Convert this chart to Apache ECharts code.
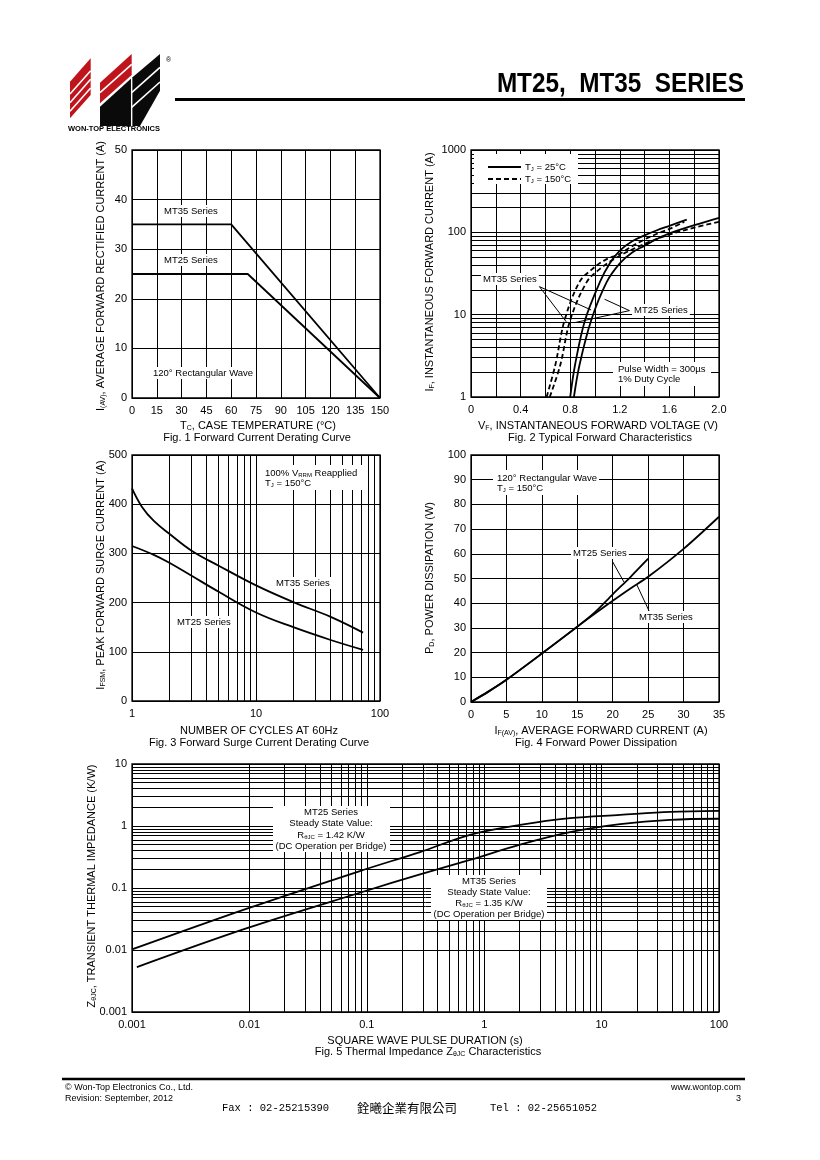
<!DOCTYPE html>
<html><head><meta charset="utf-8">
<script src="https://cdn.jsdelivr.net/npm/echarts@6/dist/echarts.min.js"></script>
<style>html,body{margin:0;padding:0;background:#fff}#c{width:820px;height:1160px}</style>
</head><body><div id="c"></div>
<script>
// ---------------- DATA ----------------
// Fig.1 Forward current derating
const fig1Temp_MT35 = [0, 60, 150];
const fig1Cur_MT35  = [35, 35, 0];
const fig1Temp_MT25 = [0, 70, 150];
const fig1Cur_MT25  = [25, 25, 0];

// Fig.2 Typical forward characteristics (V, A)
const fig2V_MT35_25C  = [0.80, 0.84, 0.92, 1.04, 1.12, 1.20, 1.30, 1.40, 1.50, 1.60, 1.74];
const fig2I_MT35_25C  = [1, 2.5, 8.6, 25, 42, 60, 78, 92, 106, 120, 143];
const fig2V_MT35_150C = [0.61, 0.68, 0.755, 0.875, 0.98, 1.08, 1.20, 1.30, 1.40, 1.50, 1.60, 1.72];
const fig2I_MT35_150C = [1, 2.45, 8.6, 25, 36, 46, 55, 68, 82, 96, 110, 134];
const fig2V_MT25_25C  = [0.83, 0.875, 0.97, 1.095, 1.20, 1.30, 1.40, 1.50, 1.60, 1.80, 2.00];
const fig2I_MT25_25C  = [1, 2.45, 8.6, 25, 42, 57, 69, 83, 97, 122, 150];
const fig2V_MT25_150C = [0.635, 0.72, 0.80, 0.934, 1.04, 1.14, 1.24, 1.34, 1.45, 1.60, 1.80, 2.00];
const fig2I_MT25_150C = [1, 2.45, 8.6, 25, 36, 46, 56, 66, 78, 94, 114, 134];
const fig2XLabels = ['0', '', '0.4', '', '0.8', '', '1.2', '', '1.6', '', '2.0'];
const fig2YLabels = ['1', '10', '100', '1000'];

// Fig.3 Forward surge current derating
const fig3Cycles_MT35 = [1, 1.2, 1.5, 2, 3, 5, 10, 20, 40, 73];
const fig3Amps_MT35   = [432, 395, 366, 340, 306, 275, 235, 201, 171, 139];
const fig3Cycles_MT25 = [1, 1.5, 2, 3, 5, 10, 20, 40, 73];
const fig3Amps_MT25   = [315, 297, 281, 255, 222, 180, 150, 124, 104];
const fig3XLabels = ['1', '10', '100'];

// Fig.4 Forward power dissipation
const fig4Cur_MT35 = [0, 2.5, 5, 10, 15, 17.5, 20, 22.5, 25, 30, 35];
const fig4Pow_MT35 = [0, 4.3, 9, 19.6, 30.5, 35.8, 41, 46, 50.7, 62, 75];
const fig4Cur_MT25 = [0, 2.5, 5, 10, 15, 17.5, 20, 22.5, 25];
const fig4Pow_MT25 = [0, 4.3, 9, 19.6, 30.5, 36.4, 43.6, 50.6, 58];

// Fig.5 Transient thermal impedance
const fig5Time_MT25 = [0.001, 0.0094, 0.093, 0.284, 0.757, 2.02, 5.38, 14.4, 38.4, 100];
const fig5Z_MT25    = [0.0102, 0.046, 0.195, 0.38, 0.72, 1.04, 1.34, 1.51, 1.69, 1.76];
const fig5Time_MT35 = [0.0011, 0.0094, 0.093, 0.284, 0.757, 2.02, 5.38, 14.4, 38.4, 100];
const fig5Z_MT35    = [0.0053, 0.0223, 0.087, 0.166, 0.284, 0.50, 0.795, 1.07, 1.26, 1.31];
const fig5XLabels = ['0.001', '0.01', '0.1', '1', '10', '100'];
const fig5YLabels = ['0.001', '0.01', '0.1', '1', '10'];

// annotation arrows (data space)
const fig2ArrowsMT35 = [[[0.552, 21.9], [0.768, 8.2]], [[0.552, 21.9], [0.969, 11.4]]];
const fig2ArrowsMT25 = [[[1.278, 11.2], [0.835, 8.0]], [[1.278, 11.2], [1.077, 15.4]]];
const fig4Arrows = [[[20.0, 56.7], [21.6, 48.5]], [[25.3, 35.8], [23.4, 47.5]]];

// ---------------- CHART ----------------
const FONT = '"Liberation Sans", Arial, Helvetica, sans-serif';
const zip = (a, b) => a.map((v, i) => [v, b[i]]);
const logLabel = (arr, e0) => v => arr[Math.round(Math.log10(v)) - e0] || '';
function minors(e0, e1) {
  const r = [];
  for (let e = e0; e < e1; e++) for (let d = 2; d <= 9; d++) r.push(+(d * Math.pow(10, e)).toPrecision(6));
  return r;
}

const gridDefs = [
  {left: 132, top: 150, width: 248, height: 248},
  {left: 471, top: 150, width: 248, height: 247},
  {left: 132, top: 455, width: 248, height: 246},
  {left: 471, top: 455, width: 248, height: 247},
  {left: 132, top: 764, width: 587, height: 248}
];
const grids = gridDefs.map(g => Object.assign({show: true, borderColor: '#000', borderWidth: 1.3,
  backgroundColor: 'rgba(0,0,0,0)', containLabel: false, outerBoundsMode: 'none'}, g));

const splitL = {show: true, lineStyle: {color: '#000', width: 1, type: 'solid'}};
function ax(gi, isX, o, fmt) {
  const a = {gridIndex: gi, position: isX ? 'bottom' : 'left', axisLine: {show: false}, axisTick: {show: false},
    splitLine: splitL, minorTick: {show: false},
    axisLabel: {color: '#000', fontSize: 11, fontFamily: FONT, margin: isX ? 7 : 5, hideOverlap: false,
      showMinLabel: true, showMaxLabel: true}};
  if (fmt) a.axisLabel.formatter = fmt;
  return Object.assign(a, o);
}
const xAxes = [
  ax(0, true, {type: 'value', min: 0, max: 150, interval: 15}),
  ax(1, true, {type: 'value', min: 0, max: 2, interval: 0.2}, v => fig2XLabels[Math.round(v / 0.2)] || ''),
  ax(2, true, {type: 'log', logBase: 10, min: 1, max: 100}, logLabel(fig3XLabels, 0)),
  ax(3, true, {type: 'value', min: 0, max: 35, interval: 5}),
  ax(4, true, {type: 'log', logBase: 10, min: 0.001, max: 100}, logLabel(fig5XLabels, -3))
];
const yAxes = [
  ax(0, false, {type: 'value', min: 0, max: 50, interval: 10}),
  ax(1, false, {type: 'log', logBase: 10, min: 1, max: 1000}, logLabel(fig2YLabels, 0)),
  ax(2, false, {type: 'value', min: 0, max: 500, interval: 100}),
  ax(3, false, {type: 'value', min: 0, max: 100, interval: 10}),
  ax(4, false, {type: 'log', logBase: 10, min: 0.001, max: 10}, logLabel(fig5YLabels, -3))
];

function gridLines(i, anchor, items) {
  return {type: 'line', xAxisIndex: i, yAxisIndex: i, data: [anchor], symbol: 'none', silent: true, z: 1,
    lineStyle: {opacity: 0}, animation: false,
    markLine: {silent: true, symbol: ['none', 'none'], label: {show: false}, animation: false,
      lineStyle: {color: '#000', width: 1, type: 'solid'}, emphasis: {disabled: true}, data: items}};
}
function arrows(i, anchor, list) {
  return {type: 'line', xAxisIndex: i, yAxisIndex: i, data: [anchor], symbol: 'none', silent: true, z: 4,
    lineStyle: {opacity: 0}, animation: false,
    markLine: {silent: true, symbol: ['none', 'arrow'], symbolSize: [0, 8], label: {show: false}, animation: false,
      lineStyle: {color: '#000', width: 1, type: 'solid'}, emphasis: {disabled: true},
      data: list.map(p => [{coord: p[0]}, {coord: p[1]}])}};
}
function curve(i, data, opts) {
  return Object.assign({type: 'line', xAxisIndex: i, yAxisIndex: i, data: data, symbol: 'none', silent: true, z: 3,
    animation: false, lineStyle: {color: '#000', width: 1.8, type: 'solid'}}, opts || {});
}
const dashed = {color: '#000', width: 1.8, type: [5, 3]};

const series = [
  gridLines(1, [0, 1], minors(0, 3).map(v => ({yAxis: v}))),
  gridLines(2, [1, 0], minors(0, 2).map(v => ({xAxis: v}))),
  gridLines(4, [0.001, 0.001], minors(-3, 2).map(v => ({xAxis: v})).concat(minors(-3, 1).map(v => ({yAxis: v})))),
  curve(0, zip(fig1Temp_MT35, fig1Cur_MT35)),
  curve(0, zip(fig1Temp_MT25, fig1Cur_MT25)),
  curve(1, zip(fig2V_MT35_25C, fig2I_MT35_25C), {smooth: 0.35}),
  curve(1, zip(fig2V_MT25_25C, fig2I_MT25_25C), {smooth: 0.35}),
  curve(1, zip(fig2V_MT35_150C, fig2I_MT35_150C), {smooth: 0.35, lineStyle: dashed}),
  curve(1, zip(fig2V_MT25_150C, fig2I_MT25_150C), {smooth: 0.35, lineStyle: dashed}),
  curve(2, zip(fig3Cycles_MT35, fig3Amps_MT35), {smooth: 0.4}),
  curve(2, zip(fig3Cycles_MT25, fig3Amps_MT25), {smooth: 0.4}),
  curve(3, zip(fig4Cur_MT35, fig4Pow_MT35), {smooth: 0.3}),
  curve(3, zip(fig4Cur_MT25, fig4Pow_MT25), {smooth: 0.3}),
  curve(4, zip(fig5Time_MT25, fig5Z_MT25), {smooth: 0.35}),
  curve(4, zip(fig5Time_MT35, fig5Z_MT35), {smooth: 0.35}),
  arrows(1, [0, 1], fig2ArrowsMT35.concat(fig2ArrowsMT25)),
  arrows(3, [0, 0], fig4Arrows)
];

// ---------------- TEXT / DECORATION ----------------
function rich(fs) {
  return {
    n: {fontSize: fs, fontFamily: FONT, fill: '#000'},
    s: {fontSize: Math.round(fs * 0.68), fontFamily: FONT, fill: '#000', verticalAlign: 'bottom', lineHeight: 6}
  };
}
function T(x, y, text, o) {
  o = o || {};
  const fs = o.fs || 11;
  const st = {text: text, rich: rich(fs), fill: '#000', font: (o.bold ? 'bold ' : '') + fs + 'px ' + (o.family || FONT),
    align: o.align || 'left', textAlign: o.align || 'left', verticalAlign: 'middle', textVerticalAlign: 'middle'};
  if (o.bg) { st.backgroundColor = '#fff'; st.padding = o.pad || [1, 2]; }
  if (o.lh) { st.lineHeight = o.lh; st.rich.n.lineHeight = o.lh; }
  const el = {type: 'text', x: x, y: y, z: 60, silent: true, style: st};
  if (o.rot) el.rotation = o.rot;
  if (o.sx) el.scaleX = o.sx;
  return el;
}
function R(x, y, w, h, fill) { return {type: 'rect', z: 55, silent: true, shape: {x: x, y: y, width: w, height: h}, style: {fill: fill || '#fff'}}; }
function Ln(x1, y1, x2, y2, w, c, dash) {
  const st = {stroke: c || '#000', lineWidth: w || 1};
  if (dash) st.lineDash = dash;
  return {type: 'line', z: 58, silent: true, shape: {x1: x1, y1: y1, x2: x2, y2: y2}, style: st};
}
const Lg = (zx, zy) => [60 + zx / 3, 50 + zy / 3];
function Poly(pts, fill) { return {type: 'polygon', z: 55, silent: true, shape: {points: pts.map(p => Lg(p[0], p[1]))}, style: {fill: fill}}; }
function Stripe(a, b) { const p = Lg(a[0], a[1]), q = Lg(b[0], b[1]); return Ln(p[0], p[1], q[0], q[1], 1.6, '#fff'); }

const ROT = Math.PI / 2;
const MONO = '"Liberation Mono", "DejaVu Sans Mono", monospace';
const graphics = [
  // logo
  Poly([[30, 95], [92, 25], [92, 135], [30, 205]], '#c0141c'),
  Poly([[120, 98], [215, 12], [215, 75], [120, 160]], '#c0141c'),
  Poly([[120, 228], [120, 170], [215, 84], [300, 12], [300, 122], [240, 228]], '#0a0a0a'),
  Stripe([30, 132], [92, 62]), Stripe([30, 158], [92, 88]), Stripe([30, 184], [92, 114]),
  Stripe([120, 128], [215, 43]),
  Stripe([215, 128], [300, 52]), Stripe([215, 172], [300, 96]),
  Ln(Lg(215, 84)[0], Lg(215, 84)[1], Lg(215, 228)[0], Lg(215, 228)[1], 1.4, '#fff'),
  T(166, 60, '®', {fs: 7}),
  T(68, 128.5, 'WON-TOP ELECTRONICS', {fs: 7.5, bold: true}),
  // header
  T(744, 85, 'MT25,  MT35  SERIES', {fs: 27, bold: true, align: 'right', sx: 0.9}),
  Ln(175, 99.5, 745, 99.5, 3),
  // footer
  Ln(62, 1079, 745, 1079, 2.5),
  T(65, 1088, '© Won-Top Electronics Co., Ltd.', {fs: 9}),
  T(65, 1099, 'Revision: September, 2012', {fs: 9}),
  T(741, 1088, 'www.wontop.com', {fs: 9, align: 'right'}),
  T(741, 1099, '3', {fs: 9, align: 'right'}),
  T(222, 1108, 'Fax : 02-25215390', {fs: 10.5, family: MONO}),
  T(357, 1108, '銓曦企業有限公司', {fs: 12.5, family: '"Noto Sans CJK TC", sans-serif'}),
  T(490, 1108, 'Tel : 02-25651052', {fs: 10.5, family: MONO}),

  // Fig 1
  T(101, 276, '{n|I}{s|(AV)}{n|, AVERAGE FORWARD RECTIFIED CURRENT (A)}', {rot: ROT, align: 'center'}),
  T(258, 426, '{n|T}{s|C}{n|, CASE TEMPERATURE (°C)}', {align: 'center'}),
  T(257, 438, 'Fig. 1 Forward Current Derating Curve', {align: 'center'}),
  T(162, 211, 'MT35 Series', {fs: 9.5, bg: true}),
  T(162, 260, 'MT25 Series', {fs: 9.5, bg: true}),
  T(151, 373, '120° Rectangular Wave', {fs: 9.5, bg: true}),

  // Fig 2
  T(430, 272, '{n|I}{s|F}{n|, INSTANTANEOUS FORWARD CURRENT (A)}', {rot: ROT, align: 'center'}),
  T(598, 426, '{n|V}{s|F}{n|, INSTANTANEOUS FORWARD VOLTAGE (V)}', {align: 'center'}),
  T(600, 438, 'Fig. 2 Typical Forward Characteristics', {align: 'center'}),
  R(474, 154, 104, 30),
  Ln(488, 167, 521, 167, 1.8), Ln(488, 179, 521, 179, 1.8, '#000', [5, 3]),
  T(525, 167, '{n|T}{s|J}{n| = 25°C}', {fs: 9.5}),
  T(525, 179, '{n|T}{s|J}{n| = 150°C}', {fs: 9.5}),
  T(481, 279, 'MT35 Series', {fs: 9.5, bg: true}),
  T(632, 310, 'MT25 Series', {fs: 9.5, bg: true}),
  R(613, 362, 98, 24),
  T(618, 369, 'Pulse Width = 300µs', {fs: 9.5}),
  T(618, 379, '1% Duty Cycle', {fs: 9.5}),

  // Fig 3
  T(101, 575, '{n|I}{s|FSM}{n|, PEAK FORWARD SURGE CURRENT (A)}', {rot: ROT, align: 'center'}),
  T(259, 731, 'NUMBER OF CYCLES AT 60Hz', {align: 'center'}),
  T(259, 743, 'Fig. 3 Forward Surge Current Derating Curve', {align: 'center'}),
  R(261, 465, 102, 25),
  T(265, 473, '{n|100% V}{s|RRM}{n| Reapplied}', {fs: 9.5}),
  T(265, 483, '{n|T}{s|J}{n| = 150°C}', {fs: 9.5}),
  T(274, 583, 'MT35 Series', {fs: 9.5, bg: true}),
  T(175, 622, 'MT25 Series', {fs: 9.5, bg: true}),

  // Fig 4
  T(430, 578, '{n|P}{s|D}{n|, POWER DISSIPATION (W)}', {rot: ROT, align: 'center'}),
  T(601, 731, '{n|I}{s|F(AV)}{n|, AVERAGE FORWARD CURRENT (A)}', {align: 'center'}),
  T(596, 743, 'Fig. 4 Forward Power Dissipation', {align: 'center'}),
  R(493, 470, 106, 25),
  T(497, 478, '120° Rectangular Wave', {fs: 9.5}),
  T(497, 488, '{n|T}{s|J}{n| = 150°C}', {fs: 9.5}),
  T(571, 553, 'MT25 Series', {fs: 9.5, bg: true}),
  T(637, 617, 'MT35 Series', {fs: 9.5, bg: true}),

  // Fig 5
  T(92, 886, '{n|Z}{s|θJC}{n|, TRANSIENT THERMAL IMPEDANCE (K/W)}', {rot: ROT, align: 'center'}),
  T(425, 1041, 'SQUARE WAVE PULSE DURATION (s)', {align: 'center'}),
  T(428, 1052, '{n|Fig. 5 Thermal Impedance Z}{s|θJC}{n| Characteristics}', {align: 'center'}),
  R(273, 806, 117, 46),
  T(331, 812.5, 'MT25 Series', {fs: 9.5, align: 'center'}),
  T(331, 823.5, 'Steady State Value:', {fs: 9.5, align: 'center'}),
  T(331, 835, '{n|R}{s|θJC}{n| = 1.42 K/W}', {fs: 9.5, align: 'center'}),
  T(331, 846, '(DC Operation per Bridge)', {fs: 9.5, align: 'center'}),
  R(431, 875, 116, 45),
  T(489, 881, 'MT35 Series', {fs: 9.5, align: 'center'}),
  T(489, 892, 'Steady State Value:', {fs: 9.5, align: 'center'}),
  T(489, 903, '{n|R}{s|θJC}{n| = 1.35 K/W}', {fs: 9.5, align: 'center'}),
  T(489, 914, '(DC Operation per Bridge)', {fs: 9.5, align: 'center'})
];

const chart = echarts.init(document.getElementById('c'), null, {renderer: 'canvas', width: 820, height: 1160});
chart.setOption({
  backgroundColor: '#fff',
  animation: false,
  grid: grids,
  xAxis: xAxes,
  yAxis: yAxes,
  series: series,
  graphic: {elements: graphics}
});
</script>
</body></html>
